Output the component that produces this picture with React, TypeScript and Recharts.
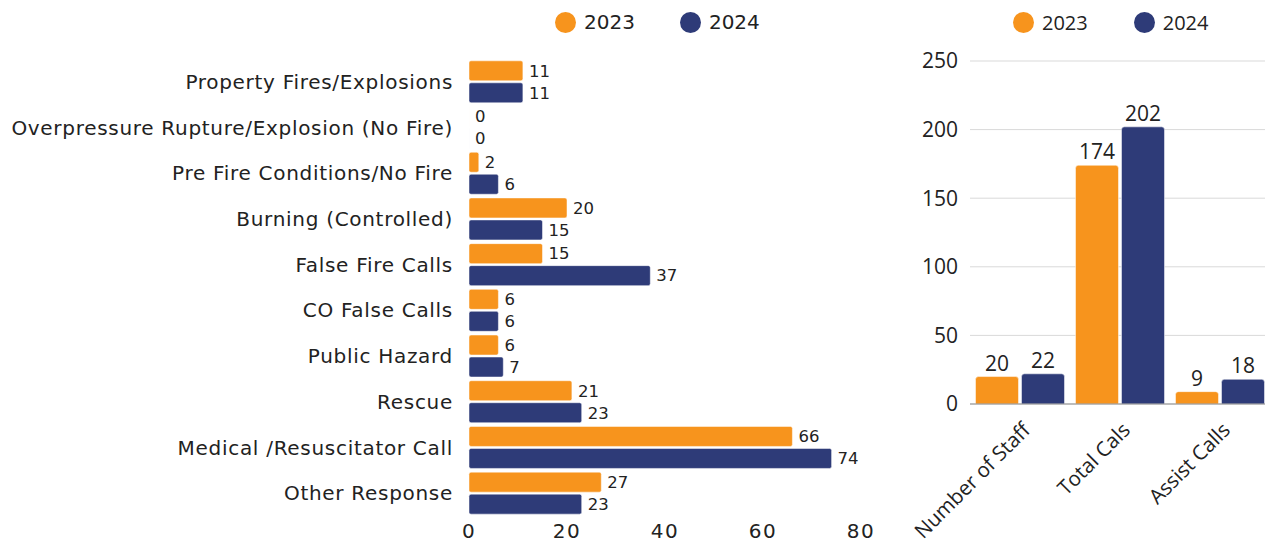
import React from "react";
import { BarChart, Bar, CartesianGrid, XAxis, YAxis, Legend, LabelList } from "recharts";

const callTypes = [
  "Property Fires/Explosions",
  "Overpressure Rupture/Explosion (No Fire)",
  "Pre Fire Conditions/No Fire",
  "Burning (Controlled)",
  "False Fire Calls",
  "CO False Calls",
  "Public Hazard",
  "Rescue",
  "Medical /Resuscitator Call",
  "Other Response",
];
const calls2023 = [11, 0, 2, 20, 15, 6, 6, 21, 66, 27];
const calls2024 = [11, 0, 6, 15, 37, 6, 7, 23, 74, 23];
const xTicks = [0, 20, 40, 60, 80];

const summaryCats = ["Number of Staff", "Total Cals", "Assist Calls"];
const summary2023 = [20, 174, 9];
const summary2024 = [22, 202, 18];
const yTicks = [0, 50, 100, 150, 200, 250];

const ORANGE = "#F7941D";
const NAVY = "#2E3B78";
const TEXT = "#222";
const LEFT_FONT = "'DejaVu Sans', sans-serif";
const RIGHT_FONT = "'Open Sans', sans-serif";

const callData = callTypes.map((name, i) => ({ name, y2023: calls2023[i], y2024: calls2024[i] }));
const summaryData = summaryCats.map((name, i) => ({ name, y2023: summary2023[i], y2024: summary2024[i] }));

// legend drawn as html, fixed height so the plot offset stays predictable
const renderLegend = (font: string, gap: number) => () => (
  <div
    style={{
      display: "flex",
      alignItems: "center",
      height: 26,
      gap,
      fontFamily: font,
      fontSize: 20,
      color: TEXT,
    }}
  >
    {[
      { label: "2023", color: ORANGE },
      { label: "2024", color: NAVY },
    ].map((it) => (
      <div key={it.label} style={{ display: "flex", alignItems: "center" }}>
        <span style={{ width: 21, height: 21, borderRadius: "50%", background: it.color, display: "inline-block", marginRight: 8 }} />
        <span>{it.label}</span>
      </div>
    ))}
  </div>
);

const AngledTick = (props: any) => {
  const { x, y, payload } = props;
  const tx = x - 1;
  const ty = y + 7;
  return (
    <text x={tx} y={ty} transform={`rotate(-45, ${tx}, ${ty})`} textAnchor="end" dominantBaseline="hanging" fontSize={20.5} fill={TEXT} fontFamily={RIGHT_FONT}>
      {payload.value}
    </text>
  );
};

const App: React.FC = () => {
  return (
    <div style={{ position: "absolute", left: 0, top: 0, width: 1265, height: 546, background: "#fff", overflow: "hidden" }}>
      <div style={{ position: "absolute", left: 0, top: 0 }}>
        <BarChart
          width={880}
          height={546}
          data={callData}
          layout="vertical"
          margin={{ top: 33, right: 19, bottom: 0, left: 0 }}
          barCategoryGap="4%"
          barGap={2}
        >
          <Legend verticalAlign="top" content={renderLegend(LEFT_FONT, 45)} wrapperStyle={{ top: 9, left: 555, width: 320 }} />
          <XAxis
            type="number"
            domain={[0, 80]}
            ticks={xTicks}
            axisLine={false}
            tickLine={false}
            height={30}
            tickSize={0}
            tickMargin={8}
            tick={{ fontSize: 20, fill: TEXT, fontFamily: LEFT_FONT, letterSpacing: 1.5 }}
          />
          <YAxis
            type="category"
            dataKey="name"
            width={469}
            axisLine={false}
            tickLine={false}
            tickSize={0}
            tickMargin={16}
            interval={0}
            tick={{ fontSize: 20, fill: TEXT, fontFamily: LEFT_FONT, letterSpacing: 0.7 }}
          />
          <Bar dataKey="y2023" fill={ORANGE} stroke="#fff" strokeWidth={0.5} radius={2} minPointSize={0.01} isAnimationActive={false}>
            <LabelList dataKey="y2023" position="right" offset={6} fontSize={16.5} fill={TEXT} fontFamily={LEFT_FONT} />
          </Bar>
          <Bar dataKey="y2024" fill={NAVY} stroke="#fff" strokeWidth={0.5} radius={2} minPointSize={0.01} isAnimationActive={false}>
            <LabelList dataKey="y2024" position="right" offset={6} fontSize={16.5} fill={TEXT} fontFamily={LEFT_FONT} />
          </Bar>
        </BarChart>
      </div>
      <div style={{ position: "absolute", left: 900, top: 0 }}>
        <BarChart
          width={370}
          height={546}
          data={summaryData}
          margin={{ top: 35, right: 0, bottom: 0, left: 0 }}
          barCategoryGap={5.5}
          barGap={3}
        >
          <Legend verticalAlign="top" content={renderLegend(RIGHT_FONT, 46)} wrapperStyle={{ top: 9, left: 113, width: 250 }} />
          <CartesianGrid vertical={false} stroke="#d9d9d9" />
          <XAxis
            dataKey="name"
            axisLine={{ stroke: "#8c8c8c" }}
            tickLine={false}
            height={142}
            interval={0}
            tick={<AngledTick />}
          />
          <YAxis
            type="number"
            domain={[0, 250]}
            ticks={yTicks}
            width={70}
            axisLine={false}
            tickLine={false}
            tickSize={0}
            tickMargin={12}
            tick={{ fontSize: 21, fill: TEXT, fontFamily: RIGHT_FONT }}
          />
          <Bar dataKey="y2023" fill={ORANGE} stroke="#fff" strokeWidth={0.5} radius={[3, 3, 0, 0]} isAnimationActive={false}>
            <LabelList dataKey="y2023" position="top" offset={6} fontSize={21} fill={TEXT} fontFamily={RIGHT_FONT} />
          </Bar>
          <Bar dataKey="y2024" fill={NAVY} stroke="#fff" strokeWidth={0.5} radius={[3, 3, 0, 0]} isAnimationActive={false}>
            <LabelList dataKey="y2024" position="top" offset={6} fontSize={21} fill={TEXT} fontFamily={RIGHT_FONT} />
          </Bar>
        </BarChart>
      </div>
    </div>
  );
};

export default App;
